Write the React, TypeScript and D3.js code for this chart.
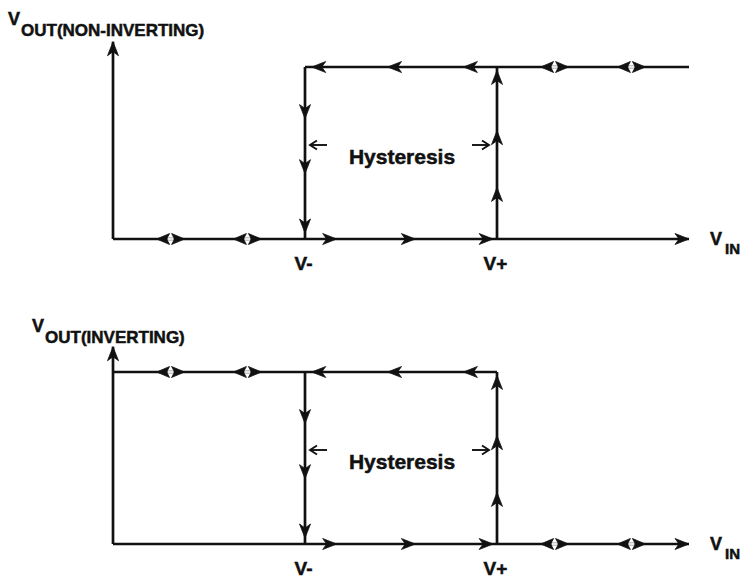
import React from "react";
import * as d3 from "d3";

// ---- data (diagram values in abstract units) ----
const panelNames = ["NON-INVERTING", "INVERTING"];
const thresholdLabels = ["V-", "V+"];
const thresholds = [-1, 1]; // V-, V+
const xExtent = [-3, 3];
const levels = [0, 1]; // low, high output
const yAxisTop = 1.147;
const doubleArrowLeft = [-2.4, -1.6];
const doubleArrowRight = [1.6, 2.4];
const rightArrowTips = [-0.67, 0.15, 0.96]; // on low line, between V- and V+
const leftArrowTips = [-0.93, -0.14, 0.65]; // on high line, between V- and V+
const downArrowTips = [0.7, 0.38, 0.035]; // along V-
const upArrowTips = [0.98, 0.63, 0.3]; // along V+

const W = 745;
const H = 579;
const INK = "#111";
const FONT = "'Liberation Sans', Arial, Helvetica, sans-serif";

const xScale = d3.scaleLinear().domain(xExtent).range([113, 689]);
const panelRanges: [number, number][] = [
  [239, 67],
  [544, 372],
];

// Filled barbed arrowhead, tip at origin pointing along +x
const headPath = "M0,0 L-14,-5.5 L-10,0 L-14,5.5 Z";

function Head({ x, y, angle }: { x: number; y: number; angle: number }) {
  return (
    <path
      d={headPath}
      transform={`translate(${x},${y}) rotate(${angle})`}
      fill={INK}
      stroke={INK}
      strokeWidth={0.8}
      strokeLinejoin="round"
    />
  );
}

function DoubleHead({ x, y }: { x: number; y: number }) {
  return (
    <g stroke={INK} strokeWidth={0.8} strokeLinejoin="round">
      <path d={`M${x - 14},${y} L${x - 1},${y - 5.5} L${x - 4},${y} L${x - 1},${y + 5.5} Z`} fill={INK} />
      <path d={`M${x + 14},${y} L${x + 1},${y - 5.5} L${x + 4},${y} L${x + 1},${y + 5.5} Z`} fill={INK} />
      <rect x={x - 3} y={y - 0.9} width={6} height={1.8} fill="#fff" stroke="none" />
    </g>
  );
}

const textProps = {
  fontFamily: FONT,
  fontWeight: "bold" as const,
  fill: INK,
  stroke: INK,
  strokeWidth: 0.5,
};

function Panel({ idx }: { idx: number }) {
  const inverting = idx === 1;
  const y = d3.scaleLinear().domain([0, 1]).range(panelRanges[idx]);
  const [vLow, vHigh] = thresholds;
  const [lo, hi] = levels;
  const line = d3.line<[number, number]>().x((d) => xScale(d[0])).y((d) => y(d[1]));

  const segs: [number, number][][] = [
    [[xExtent[0], lo], [xExtent[0], yAxisTop]], // y axis
    [[xExtent[0], lo], [xExtent[1], lo]], // baseline / x axis
    [[vLow, lo], [vLow, hi]],
    [[vHigh, lo], [vHigh, hi]],
    inverting ? [[xExtent[0], hi], [vHigh, hi]] : [[vLow, hi], [xExtent[1], hi]],
  ];

  const dblLow = inverting ? doubleArrowRight : doubleArrowLeft;
  const dblHigh = inverting ? doubleArrowLeft : doubleArrowRight;
  const hy = (y(lo) + y(hi)) / 2 + 1;
  const xL = xScale(vLow);
  const xH = xScale(vHigh);
  const vSubtitle = panelNames[idx];
  const titlePos = inverting ? { x: 32, y: 332 } : { x: 8, y: 25 };

  return (
    <g>
      {segs.map((s, i) => (
        <path key={i} d={line(s) || ""} stroke={INK} strokeWidth={2.7} fill="none" />
      ))}
      {/* axis arrowheads */}
      <Head x={xScale(xExtent[0])} y={y(yAxisTop)} angle={-90} />
      <Head x={xScale(xExtent[1])} y={y(lo)} angle={0} />
      {dblLow.map((v, i) => (
        <DoubleHead key={"dl" + i} x={xScale(v)} y={y(lo)} />
      ))}
      {dblHigh.map((v, i) => (
        <DoubleHead key={"dh" + i} x={xScale(v)} y={y(hi)} />
      ))}
      {rightArrowTips.map((v, i) => (
        <Head key={"r" + i} x={xScale(v)} y={y(lo)} angle={0} />
      ))}
      {leftArrowTips.map((v, i) => (
        <Head key={"l" + i} x={xScale(v)} y={y(hi)} angle={180} />
      ))}
      {downArrowTips.map((v, i) => (
        <Head key={"d" + i} x={xL} y={y(v)} angle={90} />
      ))}
      {upArrowTips.map((v, i) => (
        <Head key={"u" + i} x={xH} y={y(v)} angle={-90} />
      ))}
      {/* hysteresis marker */}
      <g stroke={INK} strokeWidth={1.9} fill="none" strokeLinejoin="miter">
        <path d={`M${xL + 5},${hy - 9} L${xL + 22},${hy - 9}`} />
        <path d={`M${xL + 12},${hy - 13.5} L${xL + 5},${hy - 9} L${xL + 12},${hy - 4.5}`} />
        <path d={`M${xH - 25},${hy - 9} L${xH - 8},${hy - 9}`} />
        <path d={`M${xH - 15},${hy - 13.5} L${xH - 8},${hy - 9} L${xH - 15},${hy - 4.5}`} />
      </g>
      <text x={(xL + xH) / 2 + 1} y={hy + 10} textAnchor="middle" fontSize={21} {...textProps}>
        Hysteresis
      </text>
      {/* threshold labels */}
      {thresholds.map((t, i) => (
        <text key={"t" + i} x={xScale(t) - 1.5} y={y(lo) + 31} textAnchor="middle" fontSize={19} {...textProps}>
          {thresholdLabels[i]}
        </text>
      ))}
      {/* V_IN */}
      <text x={710} y={y(lo) + 6} fontSize={18} {...textProps}>
        V
      </text>
      <text x={725} y={y(lo) + 15} fontSize={15} {...textProps}>
        IN
      </text>
      {/* title */}
      <text x={titlePos.x} y={titlePos.y} fontSize={18} {...textProps}>
        V
      </text>
      <text x={titlePos.x + 13} y={titlePos.y + 11} fontSize={17} {...textProps}>
        {`OUT(${vSubtitle})`}
      </text>
    </g>
  );
}

export default function App() {
  return (
    <svg
      width={W}
      height={H}
      viewBox={`0 0 ${W} ${H}`}
      style={{ position: "absolute", left: 0, top: 0, display: "block", background: "#fff" }}
    >
      <rect width={W} height={H} fill="#fff" />
      {panelNames.map((_, i) => (
        <Panel key={i} idx={i} />
      ))}
    </svg>
  );
}
